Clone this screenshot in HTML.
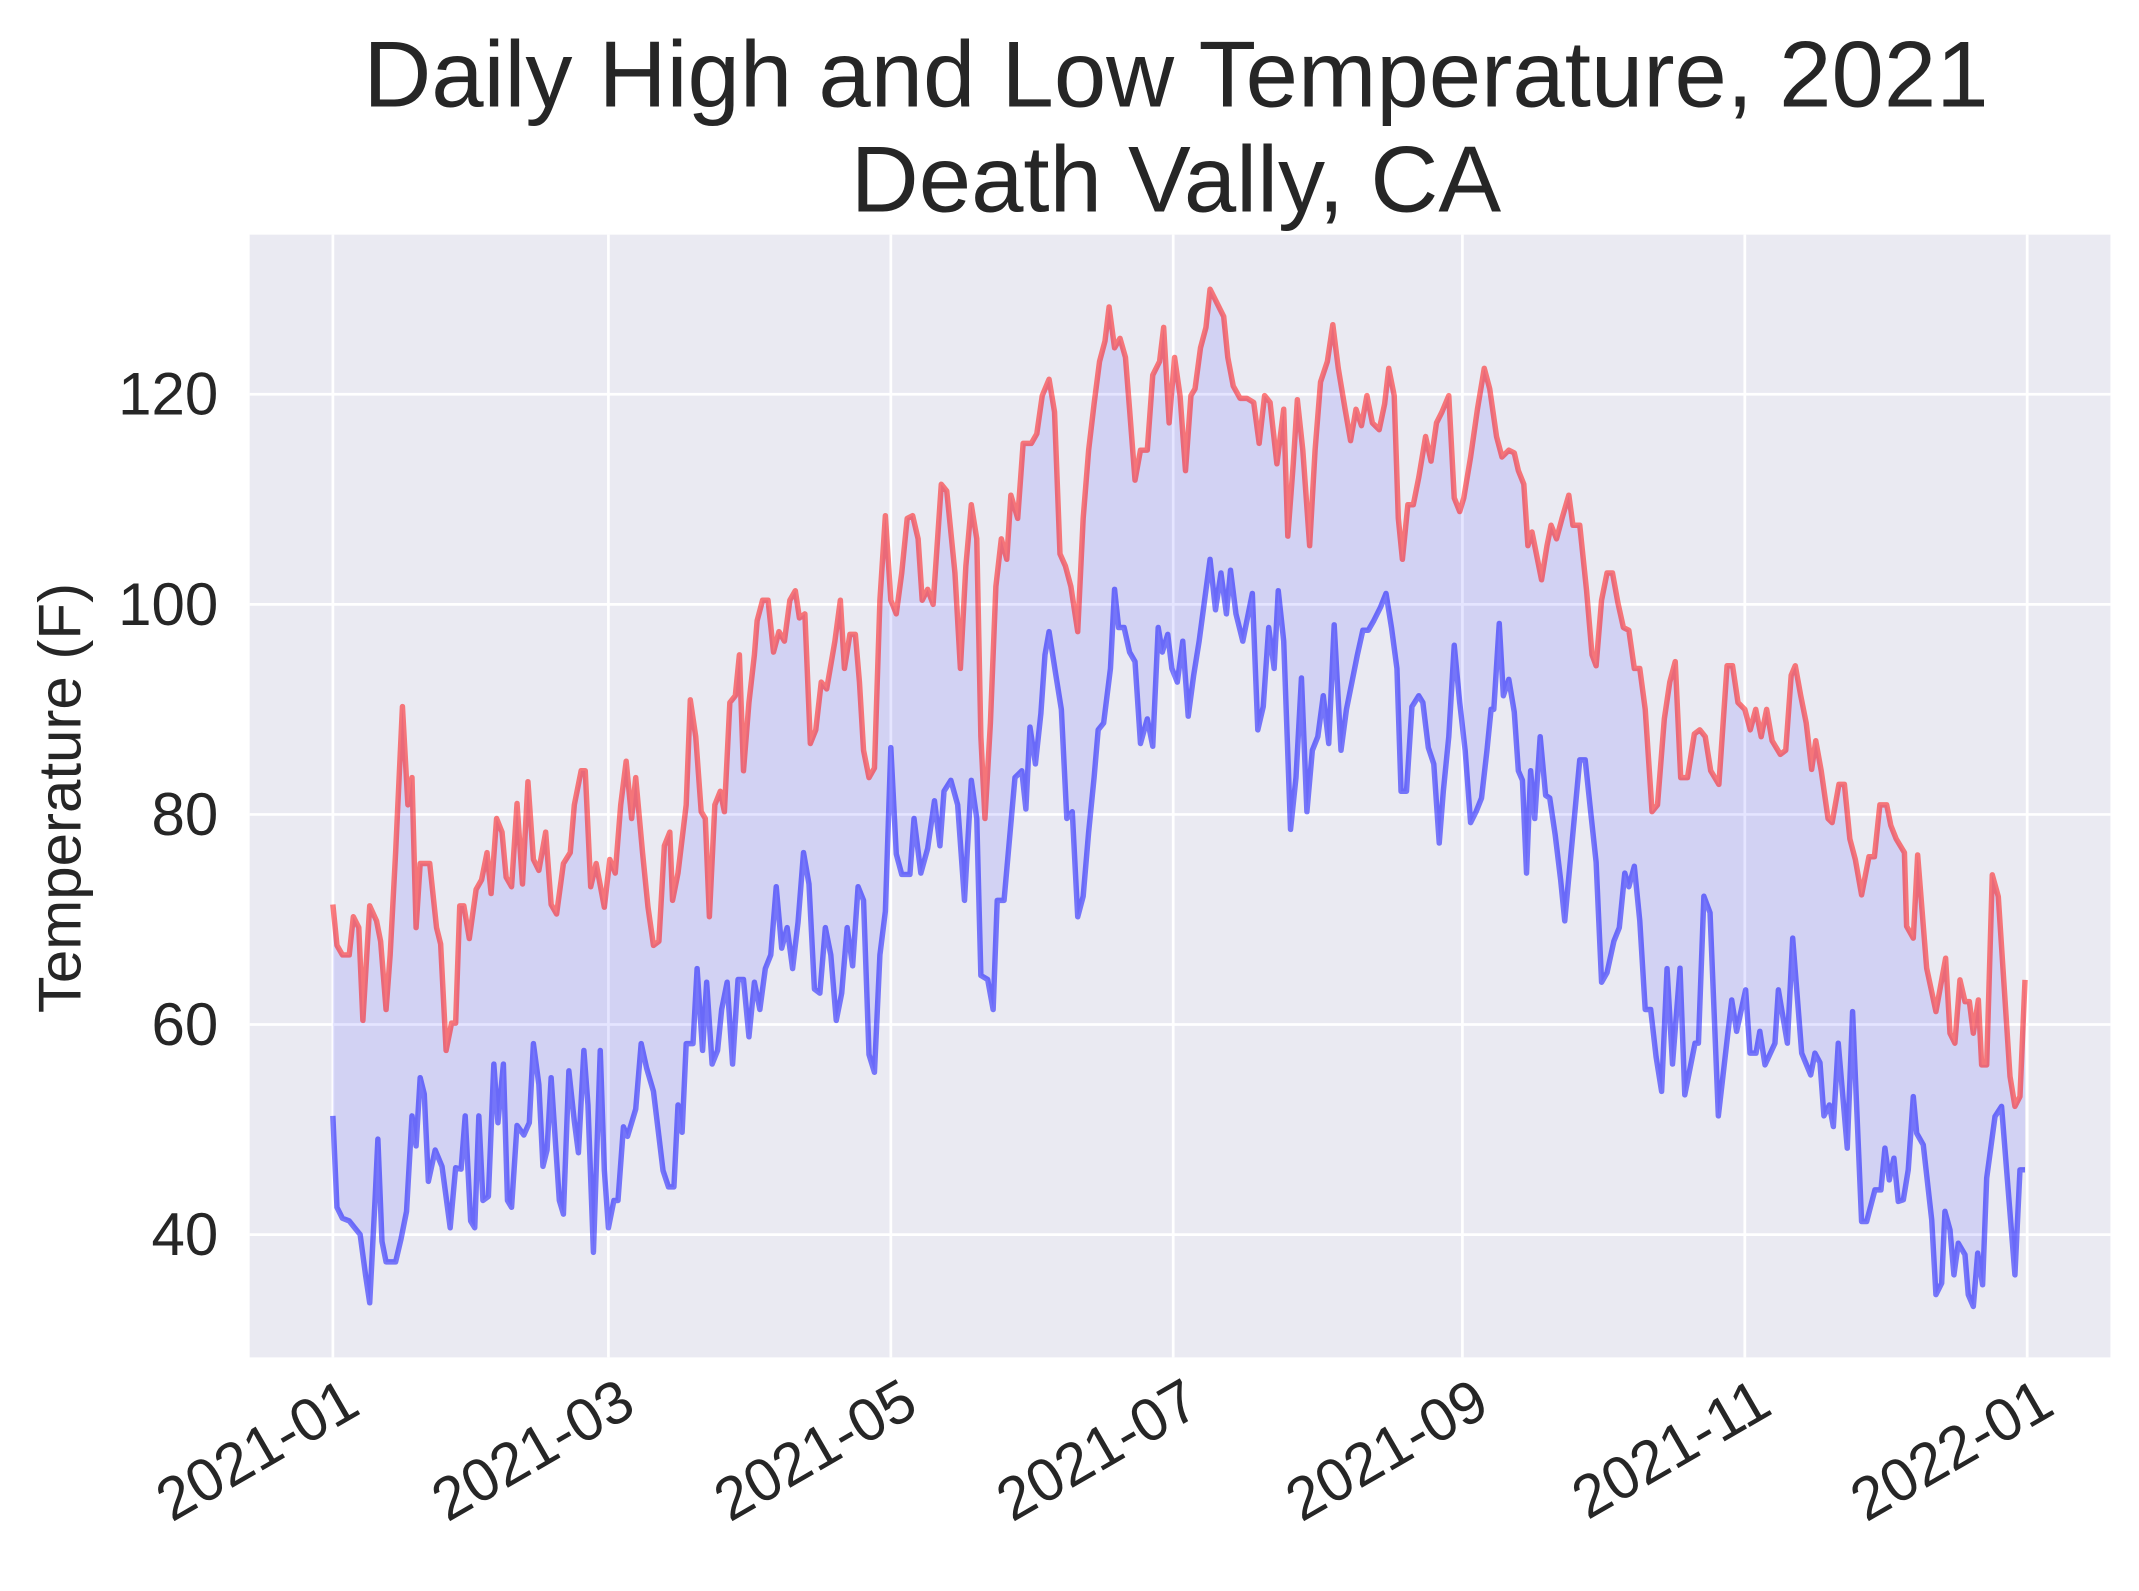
<!DOCTYPE html>
<html><head><meta charset="utf-8"><style>
html,body{margin:0;padding:0;background:#fff;}
svg{display:block;}
text{font-family:"Liberation Sans",Arial,sans-serif;fill:#262626;}
</style></head><body>
<svg id="s" width="2139" height="1591" viewBox="0 0 2139 1591" xmlns="http://www.w3.org/2000/svg">
<g transform="scale(1.3642)">
<rect x="183" y="172" width="1364" height="823" fill="#EAEAF2"/>
<g stroke="#fff" stroke-width="2">
<line x1="183" x2="1547" y1="289" y2="289"/><line x1="183" x2="1547" y1="443" y2="443"/><line x1="183" x2="1547" y1="597" y2="597"/><line x1="183" x2="1547" y1="751" y2="751"/><line x1="183" x2="1547" y1="905" y2="905"/>
<line y1="172" y2="995" x1="244" x2="244"/><line y1="172" y2="995" x1="446" x2="446"/><line y1="172" y2="995" x1="653" x2="653"/><line y1="172" y2="995" x1="860" x2="860"/><line y1="172" y2="995" x1="1072" x2="1072"/><line y1="172" y2="995" x1="1279" x2="1279"/><line y1="172" y2="995" x1="1486" x2="1486"/>
</g>
<polygon id="fill" fill="#0000ff" fill-opacity="0.1" stroke="none"/>
<polyline id="hi" fill="none" stroke="#ff0000" stroke-opacity="0.5" stroke-width="4" stroke-linejoin="round"/>
<polyline id="lo" fill="none" stroke="#0000ff" stroke-opacity="0.5" stroke-width="4" stroke-linejoin="round"/>
<g font-size="44" text-anchor="end">
<text x="160" y="304">120</text><text x="160" y="458">100</text><text x="160" y="612">80</text><text x="160" y="766">60</text><text x="160" y="920">40</text>
</g>
<g font-size="44" text-anchor="end">
<text transform="translate(250,1008) rotate(-30)" dominant-baseline="hanging">2021-01</text>
<text transform="translate(452,1008) rotate(-30)" dominant-baseline="hanging">2021-03</text>
<text transform="translate(659,1008) rotate(-30)" dominant-baseline="hanging">2021-05</text>
<text transform="translate(866,1008) rotate(-30)" dominant-baseline="hanging">2021-07</text>
<text transform="translate(1078,1008) rotate(-30)" dominant-baseline="hanging">2021-09</text>
<text transform="translate(1285,1008) rotate(-30)" dominant-baseline="hanging">2021-11</text>
<text transform="translate(1492,1008) rotate(-30)" dominant-baseline="hanging">2022-01</text>
</g>
<text transform="translate(59,585) rotate(-90)" font-size="44" text-anchor="middle">Temperature (F)</text>
<g font-size="69" text-anchor="middle">
<text x="862" y="78">Daily High and Low Temperature, 2021</text>
<text x="862" y="155">Death Vally, CA</text>
</g>
</g>
</svg>
<script>
var hi=[[244,663],[247,693],[251,700],[256,700],[259,672],[263,680],[266,748],[271,664],[276,675],[279,690],[283,740],[286,700],[290,625],[295,518],[299,590],[302,570],[305,680],[308,633],[315,633],[320,680],[323,692],[327,770],[331,750],[334,750],[337,664],[340,664],[344,688],[349,652],[353,645],[357,625],[360,655],[364,600],[368,610],[371,643],[375,650],[379,589],[383,648],[387,573],[391,630],[395,638],[400,610],[404,663],[408,670],[413,633],[418,625],[421,590],[426,565],[429,565],[433,650],[437,633],[443,665],[447,630],[451,640],[455,590],[459,558],[463,600],[466,570],[471,625],[475,665],[479,693],[483,690],[487,620],[491,610],[493,660],[497,640],[503,590],[506,513],[510,540],[514,595],[517,600],[520,672],[524,590],[528,580],[531,595],[535,515],[539,510],[542,480],[545,565],[549,515],[553,480],[555,455],[559,440],[563,440],[567,478],[571,463],[575,470],[579,440],[583,433],[586,453],[590,450],[594,545],[598,535],[602,500],[606,505],[612,470],[616,440],[619,490],[623,465],[627,465],[630,500],[633,550],[637,570],[641,563],[645,440],[649,378],[653,440],[657,450],[661,420],[665,380],[669,378],[673,395],[676,440],[680,432],[684,443],[690,355],[694,360],[700,420],[704,490],[708,415],[712,370],[716,395],[719,540],[722,600],[726,530],[730,430],[734,395],[738,410],[741,363],[746,380],[750,325],[756,325],[760,318],[764,290],[769,278],[773,302],[777,406],[781,415],[785,430],[790,463],[794,380],[798,330],[802,296],[806,265],[810,250],[813,225],[817,255],[821,248],[825,262],[828,300],[832,352],[836,330],[841,330],[845,275],[850,265],[853,240],[857,310],[861,262],[865,290],[869,345],[873,290],[876,285],[880,255],[884,240],[887,212],[891,220],[897,232],[900,262],[904,283],[909,292],[914,292],[919,295],[923,325],[927,290],[931,295],[936,340],[941,300],[944,393],[948,340],[951,293],[955,330],[960,400],[964,330],[968,280],[973,265],[977,238],[981,270],[986,300],[990,323],[994,300],[998,312],[1002,290],[1006,310],[1011,315],[1015,296],[1018,270],[1022,290],[1025,380],[1028,410],[1032,370],[1036,370],[1040,350],[1045,320],[1049,338],[1053,310],[1057,302],[1062,290],[1066,365],[1070,375],[1073,365],[1078,335],[1083,300],[1088,270],[1092,285],[1097,320],[1101,335],[1106,330],[1110,332],[1113,345],[1117,355],[1120,400],[1123,390],[1127,410],[1130,425],[1134,400],[1137,385],[1141,395],[1145,380],[1150,363],[1153,385],[1158,385],[1163,433],[1167,480],[1170,488],[1174,440],[1178,420],[1182,420],[1186,442],[1190,460],[1194,462],[1198,490],[1202,490],[1206,520],[1211,595],[1215,590],[1220,527],[1224,500],[1228,485],[1232,570],[1237,570],[1242,538],[1246,535],[1250,540],[1254,565],[1260,575],[1266,488],[1270,488],[1274,515],[1279,520],[1283,535],[1287,520],[1291,540],[1295,520],[1299,543],[1305,553],[1309,550],[1313,495],[1316,488],[1320,510],[1324,530],[1328,564],[1331,543],[1335,565],[1340,600],[1343,603],[1348,575],[1352,575],[1356,615],[1360,630],[1364.6,656],[1370,628],[1374,628],[1378,590],[1383,590],[1386,605],[1390,615],[1396,625],[1397.6,679],[1402.5,687.7],[1405.7,626.7],[1412.3,709.7],[1419.1,741.5],[1426.2,702.4],[1429.4,757.4],[1433,764.7],[1436.7,718.3],[1440.4,734.2],[1443.6,734.2],[1446.5,757.4],[1450.2,733],[1452.6,780.6],[1456.3,780.6],[1460.4,641.3],[1464.8,657.2],[1473.4,789.1],[1477,811],[1480.7,803.8],[1484.4,718.3]];
var lo=[[244,818],[247,885],[251,893],[256,895],[260,900],[264,905],[268,935],[271,955],[275,878],[277,835],[280,910],[283,925],[290,925],[294,908],[298,888],[302,818],[305,840],[308,790],[311,802],[314,866],[319,843],[324,855],[330,900],[334,856],[338,857],[341,818],[345,895],[348,900],[351,818],[354,880],[358,877],[362,780],[365,823],[369,780],[372,880],[375,885],[379,825],[384,832],[388,823],[391,765],[395,795],[398,855],[401,843],[404,790],[410,880],[413,890],[417,785],[421,822],[424,845],[428,770],[431,810],[435,918],[440,770],[443,858],[446,900],[450,880],[453,880],[457,826],[460,833],[466,813],[470,765],[474,783],[479,800],[483,833],[486,858],[490,870],[494,870],[497,810],[500,830],[503,765],[508,765],[511,710],[515,770],[518,720],[522,780],[526,770],[529,740],[533,720],[537,780],[541,718],[545,718],[549,760],[553,720],[557,740],[561,710],[565,700],[569,650],[573,695],[577,680],[581,710],[585,676],[589,625],[593,648],[597,725],[601,728],[605,680],[609,700],[613,748],[617,728],[621,680],[625,708],[629,650],[633,660],[637,773],[641,786],[645,700],[649,668],[653,548],[657,626],[661,641],[667,641],[670,600],[675,640],[680,622],[685,587],[689,620],[692,580],[697,572],[702,590],[707,660],[712,572],[716,600],[719,715],[724,718],[728,740],[731,660],[736,660],[740,615],[744,570],[749,565],[752,593],[755,533],[759,560],[763,523],[766,480],[769,463],[774,495],[778,520],[782,600],[786,595],[790,672],[794,657],[798,610],[802,570],[805,535],[809,530],[814,490],[817,432],[820,460],[824,460],[828,478],[832,485],[836,545],[841,527],[845,547],[849,460],[852,478],[856,465],[859,490],[863,500],[867,470],[871,525],[875,495],[879,470],[883,440],[887,410],[891,447],[895,420],[899,450],[902,418],[906,450],[911,470],[915,450],[918,435],[922,535],[926,518],[930,460],[934,490],[937,433],[941,470],[946,608],[950,570],[954,497],[958,595],[962,550],[966,540],[970,510],[974,545],[978,458],[983,550],[987,520],[991,500],[995,480],[999,462],[1003,462],[1007,455],[1012,445],[1016,435],[1020,460],[1024,490],[1027,580],[1031,580],[1035,518],[1040,510],[1043,515],[1047,548],[1051,560],[1055,618],[1058,580],[1062,540],[1066,473],[1070,515],[1074,550],[1078,603],[1082,595],[1086,585],[1090,550],[1093,520],[1095,520],[1099,457],[1102,510],[1106,498],[1110,522],[1113,565],[1116,572],[1119,640],[1122,565],[1125,600],[1129,540],[1133,583],[1136,585],[1140,612],[1144,645],[1147,675],[1151,632],[1154,600],[1158,557],[1162,557],[1166,595],[1170,632],[1174,720],[1178,713],[1183,690],[1187,680],[1191,640],[1194,650],[1198,635],[1202,675],[1206,740],[1210,740],[1214,775],[1218,800],[1222,710],[1226,780],[1231.5,709.7],[1235,802.6],[1242.5,764.7],[1245,764.7],[1249,657],[1253.5,669],[1259.6,818],[1269.4,733],[1273,756],[1279.6,725.6],[1282.8,772],[1287.2,772],[1290,756],[1293.8,780.6],[1301.1,764.7],[1303.6,725.6],[1310.2,764.7],[1314.1,687.7],[1320.7,772],[1327.3,788],[1330.4,772],[1334.1,779],[1337,818],[1341,810],[1343.9,825.8],[1347.5,764.7],[1354.1,841.6],[1358,741.5],[1364.6,895.4],[1368.3,895.4],[1374.4,872.2],[1378.8,872.2],[1381.7,841.6],[1384.9,864.9],[1388.3,849],[1391.5,880.7],[1395.2,879.5],[1398.8,857.5],[1402.5,803.8],[1405,830.7],[1409.8,839.2],[1416,894.2],[1419.1,949],[1423.3,940.6],[1425.7,888],[1429.4,901.5],[1432.3,934.5],[1435.5,911.3],[1440.4,919.8],[1442.8,949],[1446.5,957.7],[1449.7,918.6],[1453.3,941.8],[1456.3,863.6],[1462.4,818.4],[1467.2,811],[1477,934.5],[1480.7,857.5],[1484.4,857.5]];
function s(a){return a.map(function(p){return p[0].toFixed(1)+','+p[1];}).join(' ');}
document.getElementById('hi').setAttribute('points',s(hi));
document.getElementById('lo').setAttribute('points',s(lo));
document.getElementById('fill').setAttribute('points',s(hi)+' '+s(lo.slice().reverse()));
</script>
</body></html>
